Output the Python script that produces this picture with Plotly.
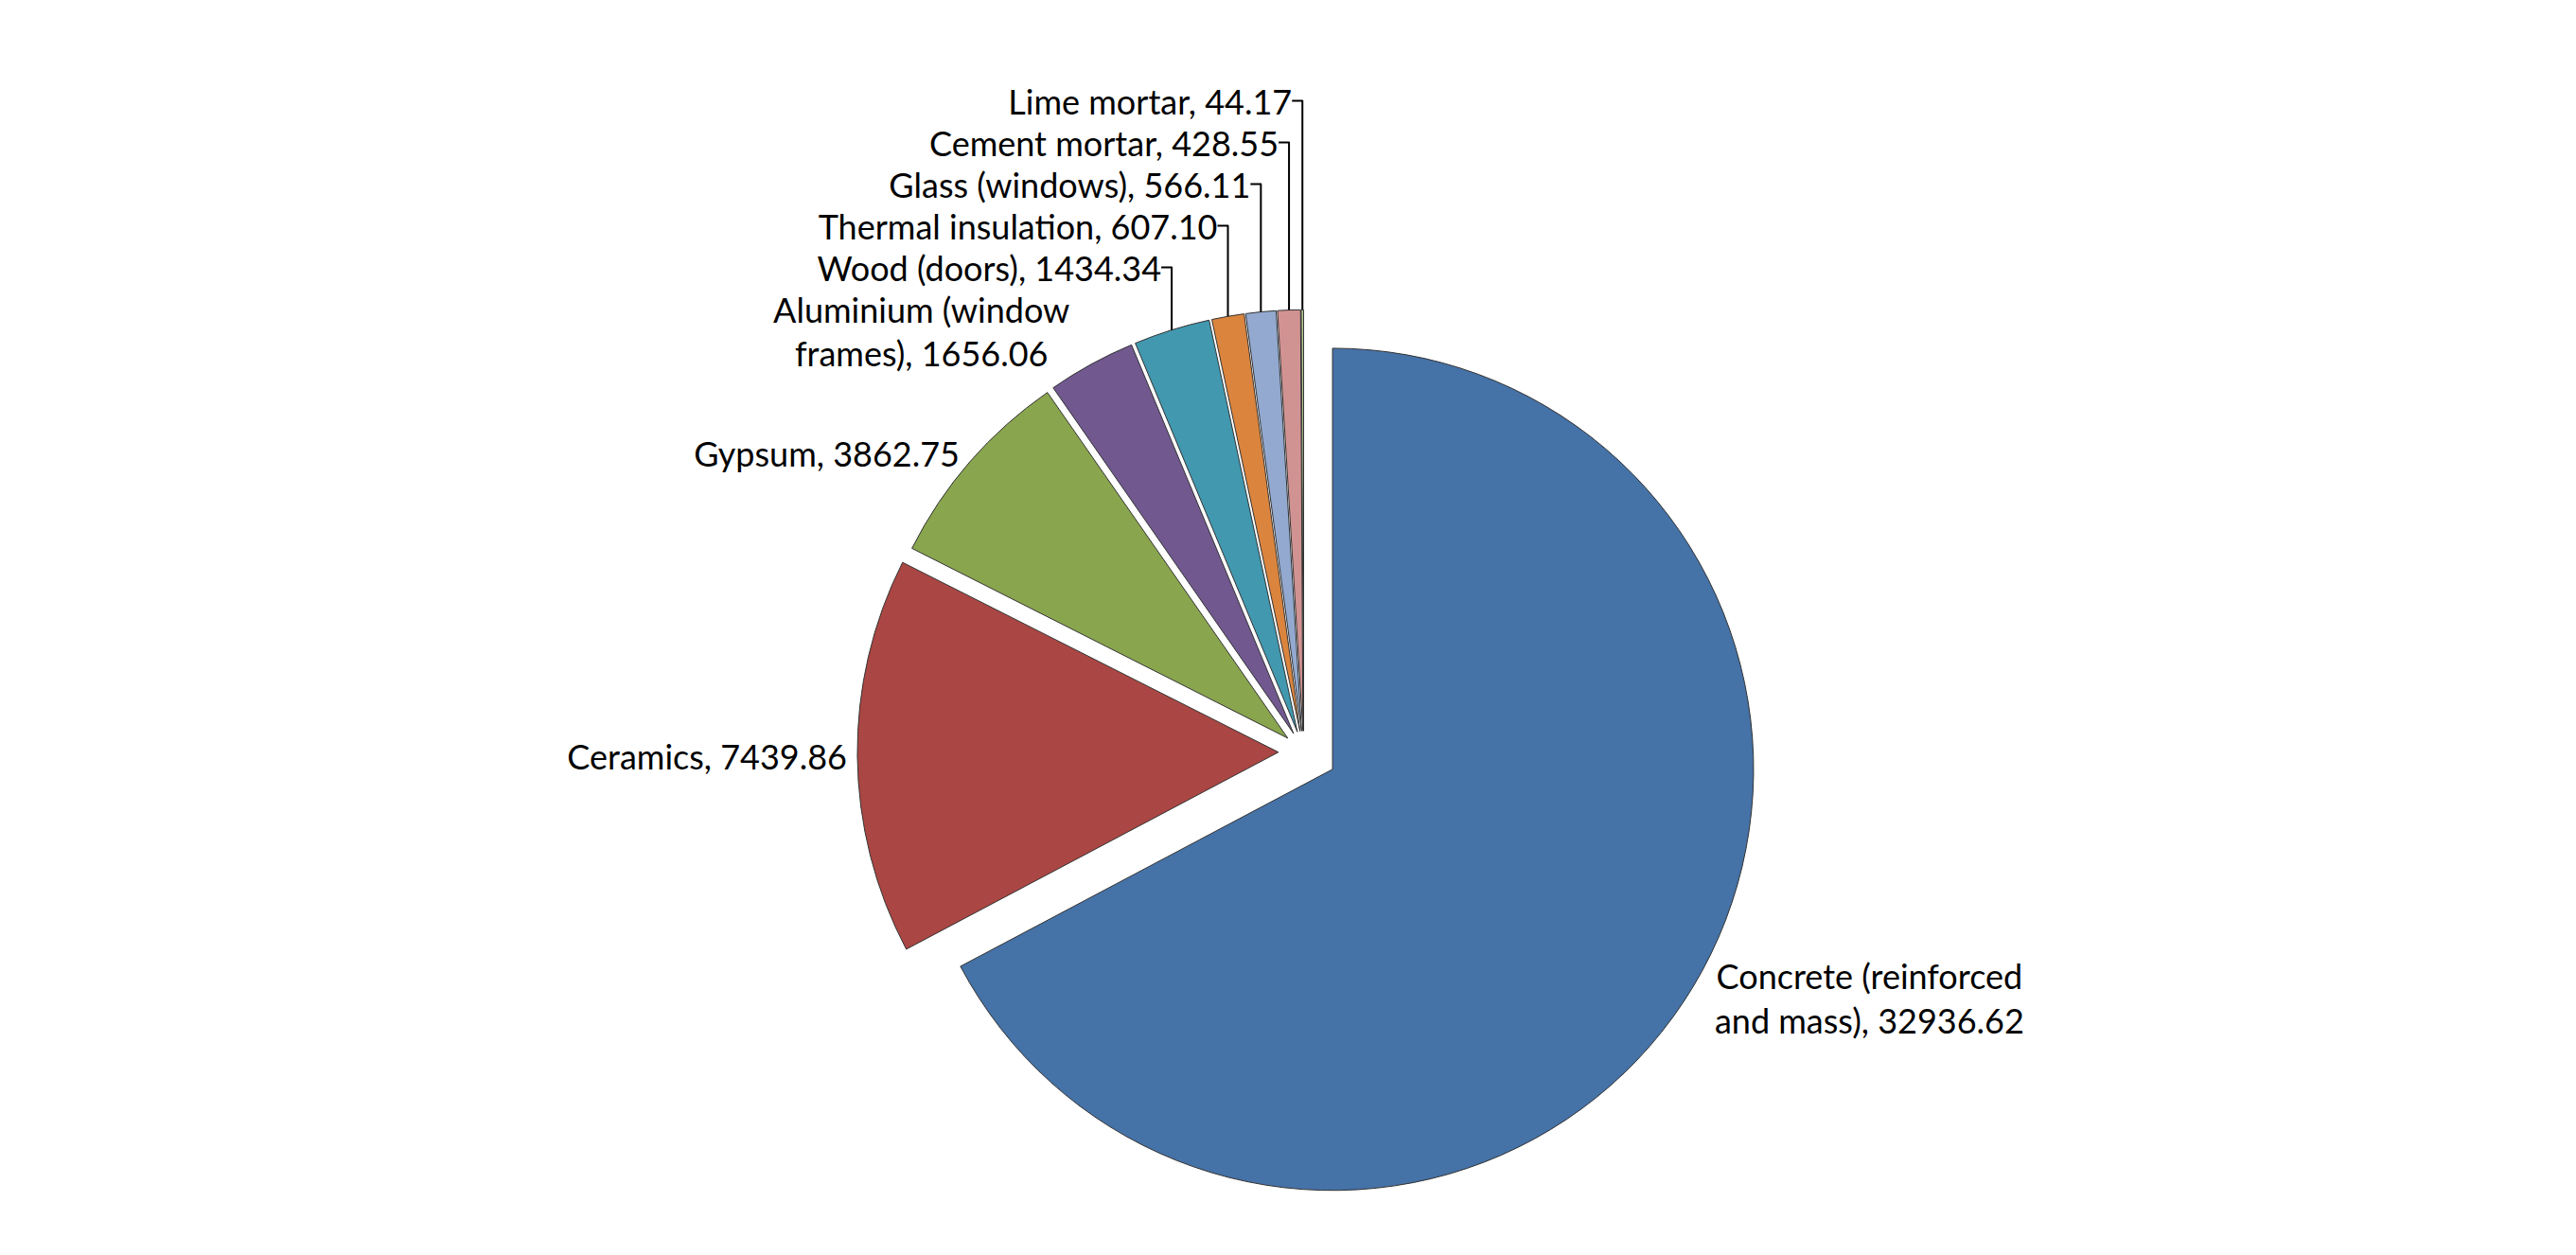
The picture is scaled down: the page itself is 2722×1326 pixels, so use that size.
import plotly.graph_objects as go

labels = ["Concrete (reinforced<br>and mass)", "Ceramics", "Gypsum", "Aluminium (window<br>frames)",
          "Wood (doors)", "Thermal insulation", "Glass (windows)", "Cement mortar", "Lime mortar"]
values = [32936.62, 7439.86, 3862.75, 1656.06, 1434.34, 607.10, 566.11, 428.55, 44.17]
colors = ["#4572A7", "#AA4643", "#89A54E", "#71588F", "#4198AF", "#DB843D", "#93A9CF", "#D19392", "#B9CD96"]
pulls = [0.08, 0.06, 0.05, 0.05, 0.05, 0.05, 0.05, 0.05, 0.05]

texts = [f"{l}, {v:.2f}" for l, v in zip(labels, values)]

fig = go.Figure(go.Pie(
    labels=labels, values=values, text=texts, textinfo="text",
    textposition="outside", sort=False, direction="clockwise", rotation=0,
    pull=pulls, marker=dict(colors=colors, line=dict(color="#333", width=1)),
    outsidetextfont=dict(family="Lato", size=36, color="#000"),
    domain=dict(x=[0.12, 0.95], y=[0, 1]),
    showlegend=False,
))
fig.update_layout(width=2722, height=1326, paper_bgcolor="white",
                  margin=dict(l=60, r=60, t=130, b=40))
fig.write_html("out.html")
